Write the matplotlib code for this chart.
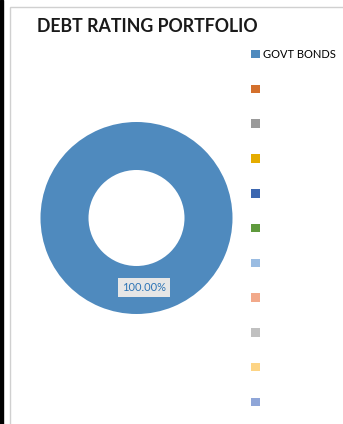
import matplotlib.pyplot as plt
from matplotlib.patches import Rectangle

categories = ["GOVT BONDS", "", "", "", "", "", "", "", "", "", ""]
values = [100.0, 0, 0, 0, 0, 0, 0, 0, 0, 0, 0]
colors = [
    "#4F8ABE", "#D4702C", "#9A9A9A", "#E5AC00", "#3C67B0", "#5F9A3D",
    "#9ABCE2", "#F2A98A", "#C0C0C0", "#FDD485", "#8FA6D8",
]
title = "DEBT RATING PORTFOLIO"

plt.rcParams["font.family"] = ["Lato", "DejaVu Sans"]

W, H = 343, 424
fig = plt.figure(figsize=(W / 100, H / 100), dpi=100)

# frame of the chart area and the dark strip at the left edge
fig.patches.append(Rectangle((0, 0), 3 / W, 1, transform=fig.transFigure,
                             color="black", zorder=-2))
fig.patches.append(Rectangle((9.5 / W, -0.1), 1.0, 1 - 7.5 / H + 0.1,
                             transform=fig.transFigure, facecolor="white",
                             edgecolor="#D0D0D0", lw=1.0, zorder=-2))

cx, cy, R = 136.5, 218, 96
ax = fig.add_axes([(cx - R) / W, 1 - (cy + R) / H, 2 * R / W, 2 * R / H])
wedges, _ = ax.pie(values, colors=colors, startangle=90, counterclock=False,
                   radius=1.0, wedgeprops=dict(width=0.5, linewidth=0))
ax.set_xlim(-1, 1)
ax.set_ylim(-1, 1)
ax.set_aspect("equal")
ax.axis("off")

for w, v in zip(wedges, values):
    if v > 0:
        ax.text(0.078, -0.72, f"{v:.2f}%", ha="center", va="center",
                fontsize=8, color="#2E75B6",
                bbox=dict(boxstyle="square,pad=0.35", fc="#E6E6E6", ec="none"))

fig.text(37 / W, 1 - 26 / H, title, fontsize=12.8, fontweight="bold",
         ha="left", va="center", color="#1a1a1a")

fig.legend(wedges, categories, loc="upper left",
           bbox_to_anchor=(251 / W, 1 - 49 / H), frameon=False,
           fontsize=8, handlelength=0.8, handleheight=0.8, handletextpad=0.3,
           labelspacing=2.14, borderaxespad=0, borderpad=0)

fig.savefig("out.png", dpi=100)
